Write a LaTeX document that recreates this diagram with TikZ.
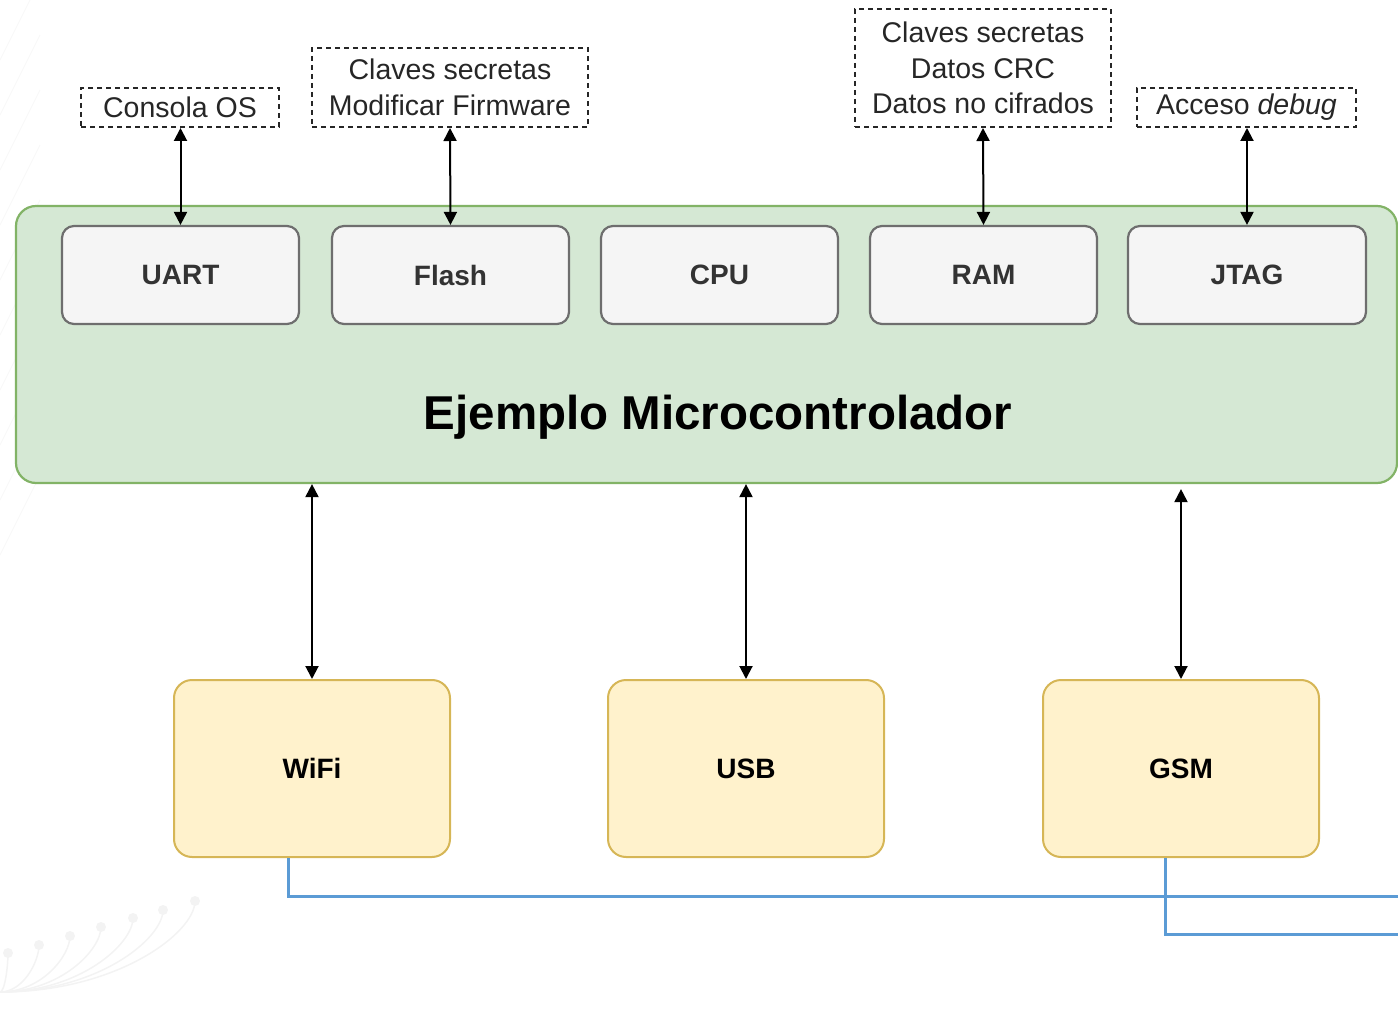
\documentclass[tikz,border=0pt]{standalone}
\usepackage{fontspec}
\setmainfont{Liberation Sans}
\usetikzlibrary{arrows.meta,calc}
\definecolor{mcfill}{HTML}{D5E8D4}
\definecolor{mcline}{HTML}{82B366}
\definecolor{blkfill}{HTML}{F5F5F5}
\definecolor{blkline}{HTML}{6E6E6E}
\definecolor{ifill}{HTML}{FFF2CC}
\definecolor{iline}{HTML}{D6B656}
\definecolor{wire}{HTML}{5B9BD5}
\definecolor{faint}{HTML}{F3F3F3}
\definecolor{fainter}{HTML}{F8F8F8}
\begin{document}
\begin{tikzpicture}[x=1pt,y=-1pt,
  blk/.style={draw=blkline,fill=blkfill,line width=2.2pt,rounded corners=12pt,
    minimum width=237pt,minimum height=98pt,inner sep=0pt,
    font=\fontsize{28}{32}\selectfont\bfseries,text=black!80},
  iface/.style={draw=iline,fill=ifill,line width=2pt,rounded corners=18pt,
    minimum width=276pt,minimum height=177pt,inner sep=0pt,
    font=\fontsize{28}{32}\selectfont\bfseries},
  lbl/.style={draw=black!85,dash pattern=on 5pt off 4pt,line width=2pt,inner sep=0pt,
    align=center,font=\fontsize{28.5}{35.5}\selectfont,text=black!85},
  arr/.style={line width=2pt,{Triangle[length=13pt,width=13pt]}-{Triangle[length=13pt,width=13pt]}},
  wirestyle/.style={draw=wire,line width=3pt}]
\useasboundingbox (0,0) rectangle (1398,1032);
\clip (0,0) rectangle (1398,1032);
% faint background decoration
\foreach \px/\py in {195/901,163/910,133/918,101/927,70/936,39/945,8/953}{
  \draw[faint,line width=1.5pt] (0,992) .. controls ($(0,992)!0.6!(\px,992)$) and ($(\px,\py)!0.35!(\px,992)$) .. (\px,\py);
  \fill[faint] (\px,\py) circle (5pt);
}
\foreach \k in {0,...,9}{
  \draw[fainter,line width=1pt] (0,60+\k*55) -- (40,\k*55-20);
}
% main block
\node[draw=mcline,fill=mcfill,line width=2.2pt,rounded corners=20pt,
  minimum width=1381pt,minimum height=277pt,inner sep=0pt] (mc) at (706.5,344.5) {};
\node[font=\fontsize{47.5}{55}\selectfont\bfseries] (mctitle) at (718,417) {Ejemplo Microcontrolador};
% internal blocks
\node[blk] (uart) at (180.5,275) {UART};
\node[blk] (flash) at (450.5,275) {Flash};
\node[blk] (cpu) at (719.5,275) {CPU};
\node[blk,minimum width=227pt] (ram) at (983.5,275) {RAM};
\node[blk,minimum width=238pt] (jtag) at (1247,275) {JTAG};
% labels
\node[lbl,minimum width=198pt,minimum height=39pt] (uartlbl) at (180,107.5) {Consola OS};
\node[lbl,minimum width=276pt,minimum height=79pt] (flashlbl) at (450,87.5) {Claves secretas\\Modificar Firmware};
\node[lbl,minimum width=256pt,minimum height=118pt] (ramlbl) at (983,68) {Claves secretas\\Datos CRC\\Datos no cifrados};
\node[lbl,minimum width=219pt,minimum height=39pt] (jtaglbl) at (1246.5,107.5) {Acceso \textit{debug}};
\draw[arr] (uartlbl.south -| uart.north) -- (uart.north);
\draw[arr] (flashlbl.south) -- (flash.north);
\draw[arr] (ramlbl.south) -- (ram.north);
\draw[arr] (jtaglbl.south -| jtag.north) -- (jtag.north);
% interfaces
\node[iface] (wifi) at (312,768.5) {WiFi};
\node[iface] (usb) at (746,768.5) {USB};
\node[iface] (gsm) at (1181,768.5) {GSM};
\draw[arr] (mc.south -| wifi.north) -- (wifi.north);
\draw[arr] (mc.south -| usb.north) -- (usb.north);
\draw[arr] ($(mc.south -| gsm.north)+(0,5)$) -- (gsm.north);
% wires
\coordinate (w1) at (1400,896);
\coordinate (w2) at (1400,934);
\draw[wirestyle] ([xshift=-24pt]wifi.south) |- (w1);
\draw[wirestyle] ([xshift=-16pt]gsm.south) |- (w2);
\end{tikzpicture}
\end{document}
